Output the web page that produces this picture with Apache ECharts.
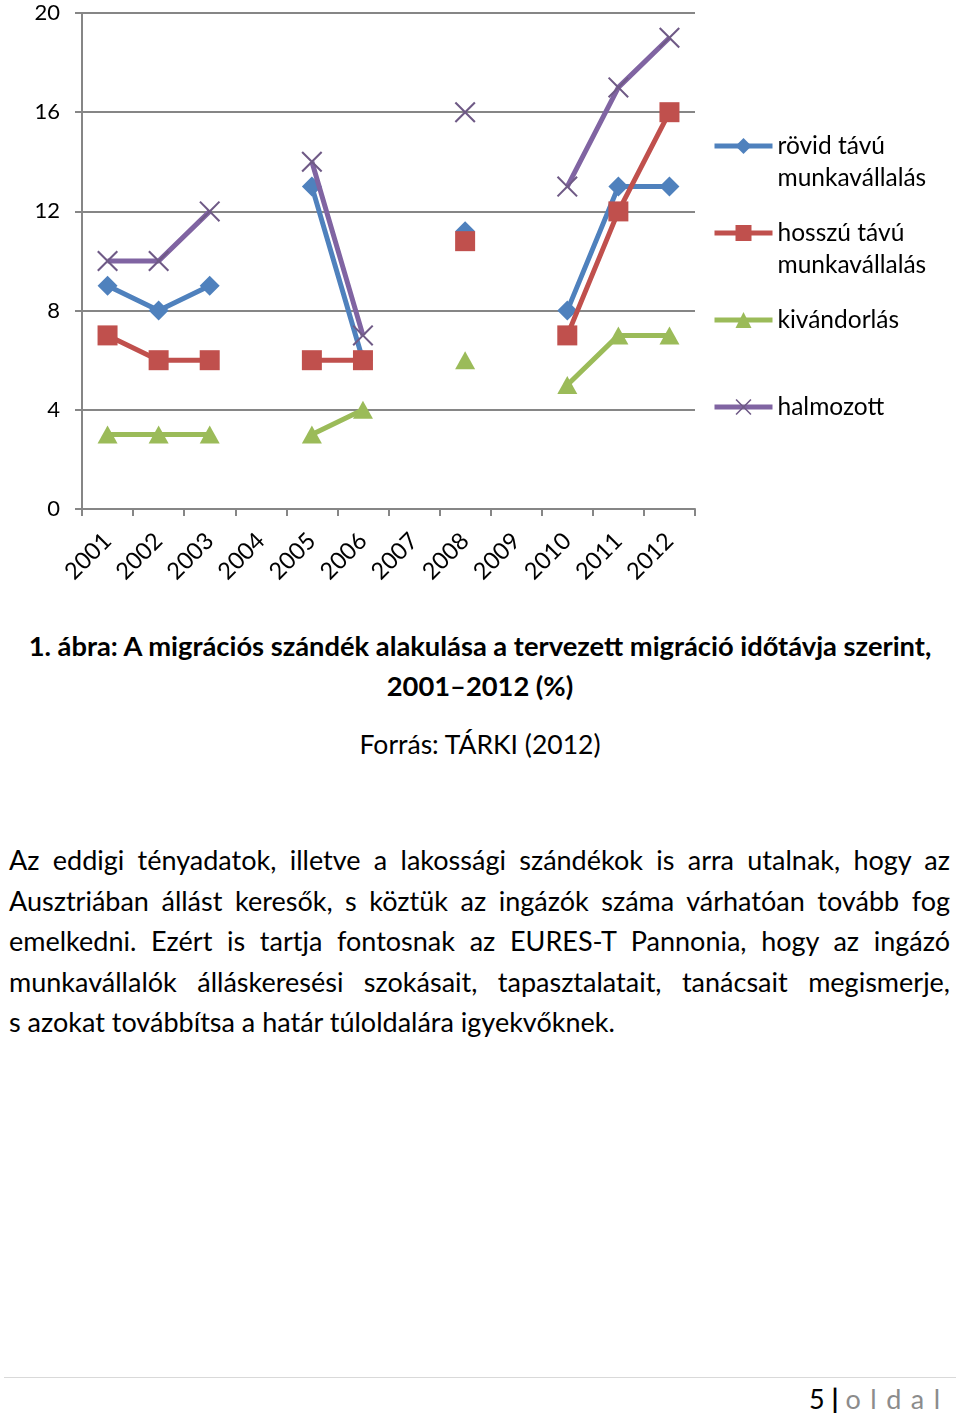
<!DOCTYPE html>
<html><head><meta charset="utf-8">
<script src="https://cdn.jsdelivr.net/npm/echarts@6/dist/echarts.min.js"></script>
<style>
html,body{margin:0;padding:0;background:#fff;width:960px;height:1415px;overflow:hidden;font-family:Lato,"Open Sans",sans-serif;color:#000;}
#chart{position:absolute;left:0;top:0;width:960px;height:600px;}
.cap{position:absolute;left:0;width:960px;text-align:center;font-size:27.3px;font-weight:bold;line-height:32px;}
.src{position:absolute;left:0;width:960px;text-align:center;font-size:26.5px;line-height:32px;}
.para{position:absolute;left:9px;width:941px;font-size:27px;}
.para div{height:40.5px;line-height:40.5px;text-align:justify;text-align-last:justify;white-space:nowrap;}
.para div.last{text-align:left;text-align-last:left;}
.foot{position:absolute;left:4px;width:952px;top:1377px;border-top:1px solid #d9d9d9;}
.pg{position:absolute;left:809px;top:1382px;font-size:27px;line-height:34px;color:#000;white-space:nowrap;}
.pg span{color:#8c8c8c;letter-spacing:9.5px;}
</style></head>
<body>
<div id="chart"></div>
<div class="cap" style="top:630px;">1. ábra: A migrációs szándék alakulása a tervezett migráció időtávja szerint,</div>
<div class="cap" style="top:670px;">2001–2012 (%)</div>
<div class="src" style="top:728px;">Forrás: TÁRKI (2012)</div>
<div class="para" style="top:840px;">
<div>Az eddigi tényadatok, illetve a lakossági szándékok is arra utalnak, hogy az</div>
<div>Ausztriában állást keresők, s köztük az ingázók száma várhatóan tovább fog</div>
<div>emelkedni. Ezért is tartja fontosnak az EURES-T Pannonia, hogy az ingázó</div>
<div>munkavállalók álláskeresési szokásait, tapasztalatait, tanácsait megismerje,</div>
<div class="last">s azokat továbbítsa a határ túloldalára igyekvőknek.</div>
</div>
<div class="foot"></div>
<div class="pg">5 <b style="font-weight:bold;">|</b> <span>oldal</span></div>
<script>
const years = ['2001','2002','2003','2004','2005','2006','2007','2008','2009','2010','2011','2012'];
const rovid = [9, 8, 9, null, 13, 6, null, 11.2, null, 8, 13, 13];
const hosszu = [7, 6, 6, null, 6, 6, null, 10.8, null, 7, 12, 16];
const kivandorlas = [3, 3, 3, null, 3, 4, null, 6, null, 5, 7, 7];
const halmozott = [10, 10, 12, null, 14, 7, null, 16, null, 13, 17, 19];
const seriesNames = ['rövid távú\nmunkavállalás', 'hosszú távú\nmunkavállalás', 'kivándorlás', 'halmozott'];
const yTicks = [0, 4, 8, 12, 16, 20];

const FONT = 'Lato, "Open Sans", sans-serif';
const xPath = 'path://M0,1.4L1.4,0L10,8.6L18.6,0L20,1.4L11.4,10L20,18.6L18.6,20L10,11.4L1.4,20L0,18.6L8.6,10Z';
const colors = ['#4F81BD', '#C0504D', '#9BBB59', '#8064A2'];
const markerColors = ['#4F81BD', '#C0504D', '#9BBB59', '#6f5a86'];
const symbols = ['diamond', 'rect', 'triangle', xPath];
const sizes = [[20, 20], [20, 20], [20, 18], [21, 21]];
const dataSets = [rovid, hosszu, kivandorlas, halmozott];

const chart = echarts.init(document.getElementById('chart'), null, {renderer: 'canvas'});
const LH = 32;
const legendTops = [146, 233, 320, 407];
const legends = seriesNames.map((n, i) => {
  const two = n.indexOf('\n') >= 0;
  return {
    orient: 'vertical', left: 712,
    top: two ? legendTops[i] - 1.5 * LH : legendTops[i] - LH / 2,
    itemWidth: 58, itemHeight: 20, itemGap: 0, padding: 0,
    data: [n],
    lineStyle: {width: 5},
    formatter: name => (name.indexOf('\n') >= 0 ? ' \n' + name : name),
    textStyle: {fontFamily: FONT, fontSize: 24.5, color: '#000', lineHeight: LH}
  };
});

chart.setOption({
  animation: false,
  grid: {left: 82, right: 265, top: 13, bottom: 91, containLabel: false},
  legend: legends,
  xAxis: {
    type: 'category', data: years, boundaryGap: true,
    axisLine: {lineStyle: {color: '#868686', width: 2}},
    axisTick: {show: true, length: 7, lineStyle: {color: '#868686', width: 2}},
    axisLabel: {rotate: 45, fontFamily: FONT, fontSize: 23.5, color: '#000', margin: 28}
  },
  yAxis: {
    type: 'value', min: 0, max: 20, interval: 4,
    axisLine: {show: true, lineStyle: {color: '#868686', width: 2}},
    axisTick: {show: true, length: 7, lineStyle: {color: '#868686', width: 2}},
    axisLabel: {fontFamily: FONT, fontSize: 22, color: '#000', margin: 22},
    splitLine: {lineStyle: {color: '#868686', width: 2}}
  },
  series: seriesNames.map((n, i) => ({
    name: n, type: 'line', data: dataSets[i],
    symbol: symbols[i], symbolSize: sizes[i], showAllSymbol: true,
    connectNulls: false,
    lineStyle: {color: colors[i], width: 5},
    itemStyle: {color: markerColors[i]},
    z: 2 + i
  }))
});
</script>
</body></html>
